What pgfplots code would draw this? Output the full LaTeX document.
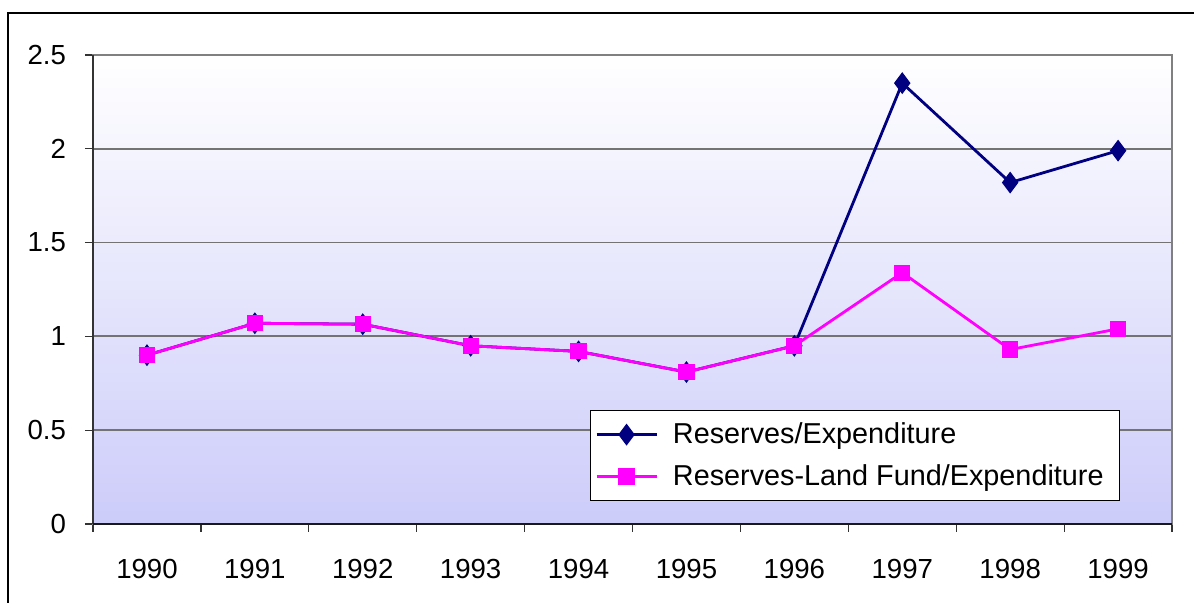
\documentclass[border=0pt]{standalone}
\usepackage{fontspec}
\setmainfont{Liberation Sans}
\usepackage{pgfplots}
\pgfplotsset{compat=1.18}
\definecolor{navyline}{RGB}{0,0,128}
\definecolor{magline}{RGB}{255,0,255}
\definecolor{bgbottom}{RGB}{204,204,250}
\begin{document}
\begin{tikzpicture}
\useasboundingbox (0,0) rectangle (597pt,301.5pt);
\draw[black, line width=0.8pt] (4pt,-2pt) -- (4pt,295pt) -- (599pt,295pt);
\begin{axis}[
  at={(46.5pt,39.5pt)}, anchor=south west,
  scale only axis,
  width=539.5pt, height=234.5pt,
  xmin=-0.5, xmax=9.5, ymin=0, ymax=2.5,
  xtick={0,...,9},
  xticklabels={1990,1991,1992,1993,1994,1995,1996,1997,1998,1999},
  minor xtick={-0.5,0.5,...,9.5},
  ytick={0,0.5,1,1.5,2,2.5},
  yticklabels={0,0.5,1,1.5,2,2.5},
  tick align=outside,
  major tick length=4pt,
  minor tick length=4pt,
  major x tick style={draw=none},
  minor x tick style={draw=black!80, line width=0.6pt},
  y tick style={draw=black!80, line width=0.6pt},
  xtick pos=bottom, ytick pos=left,
  ymajorgrids,
  major grid style={draw=black!55, line width=0.9pt},
  axis line style={draw=black!50, line width=1pt},
  axis background/.style={shade, top color=white, bottom color=bgbottom},
  font=\fontsize{13.8}{16}\selectfont,
  ticklabel style={font=\fontsize{13.8}{16}\selectfont, /pgf/number format/assume math mode=true},
  yticklabel style={xshift=-6pt},
  xticklabel style={yshift=-10pt},
  legend style={at={(0.952,0.049)}, anchor=south east, draw=black, line width=0.6pt,
    fill=white, font=\fontsize{14.4}{17}\selectfont, row sep=5pt, column sep=5.5pt,
    inner xsep=2.5pt, inner ysep=4pt},
  legend cell align=left,
  legend image code/.code={\draw[mark repeat=2,mark phase=2,#1] plot coordinates {(0pt,0pt) (15pt,0pt) (30pt,0pt)};},
  after end axis/.code={
    \draw[black!80, line width=1pt] (rel axis cs:0,0) -- (rel axis cs:0,1);
    \draw[black!90, line width=1pt] (rel axis cs:0,0) -- (rel axis cs:1,0);
  },
]
\addplot[navyline, line width=1.4pt, mark=diamond*, mark size=5pt, mark options={solid, fill=navyline, draw=navyline, line width=0.6pt}]
  coordinates {(0,0.90) (1,1.07) (2,1.065) (3,0.95) (4,0.92) (5,0.81) (6,0.95) (7,2.35) (8,1.82) (9,1.99)};
\addlegendentry{Reserves/Expenditure}
\addplot[magline, line width=1.4pt, mark=square*, mark size=3.8pt, mark options={solid, fill=magline, draw=magline, line width=0.5pt}]
  coordinates {(0,0.90) (1,1.07) (2,1.065) (3,0.95) (4,0.92) (5,0.81) (6,0.95) (7,1.34) (8,0.93) (9,1.04)};
\addlegendentry{Reserves-Land Fund/Expenditure\rule{3.5pt}{0pt}}
\end{axis}
\end{tikzpicture}
\end{document}
